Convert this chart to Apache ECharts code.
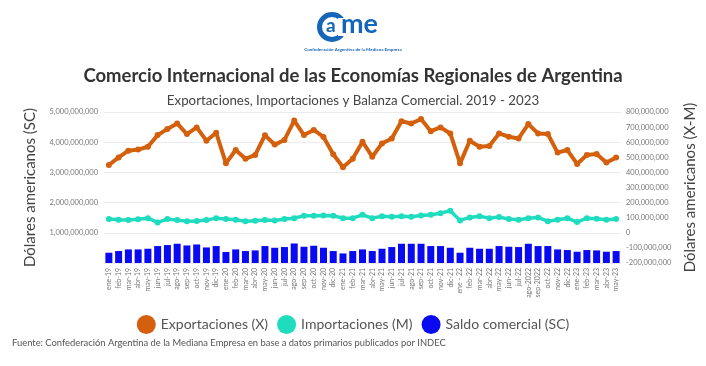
<!DOCTYPE html>
<html><head><meta charset="utf-8">
<script src="https://cdn.jsdelivr.net/npm/echarts@6/dist/echarts.min.js"></script>
<style>html,body{margin:0;padding:0;background:#fff}#c{width:706px;height:366px}</style>
</head><body><div id="c"></div>
<script>
const categories = ['ene-19','feb-19','mar-19','abr-19','may-19','jun-19','jul-19','ago-19','sep-19','oct-19','nov-19','dic-19',
'ene-20','feb-20','mar-20','abr-20','may-20','jun-20','jul-20','ago-20','sep-20','oct-20','nov-20','dic-20',
'ene-21','feb-21','mar-21','abr-21','may-21','jun-21','jul-21','ago-21','sep-21','oct-21','nov-21','dic-21',
'ene - 22','feb-22','mar-22','abr-22','may-22','jun-22','jul-22','ago-2022','sep-2022','oct-22','nov-22','dic-22',
'ene-23','feb-23','mar-23','abr-23','may-23'];
// values in millions of US dollars
const exportaciones = [449,499,544,551,570,647,687,724,654,698,610,663,
460,548,490,516,646,584,615,743,647,681,635,520,
434,490,603,504,592,625,739,724,753,673,698,658,
460,610,570,575,658,636,625,720,658,654,531,548,
456,515,522,465,498];
const importaciones = [91,86,84,89,97,69,91,84,76,78,84,97,
91,86,76,80,84,82,91,97,113,113,115,113,
97,97,119,97,109,106,109,106,115,119,130,146,
82,102,109,97,104,91,86,97,102,76,86,97,
71,97,93,86,91];
const saldo = [340,396,450,450,472,561,594,637,581,614,515,561,
363,450,396,417,561,505,528,647,538,571,505,396,
317,396,450,396,472,528,637,637,637,561,561,505,
340,505,472,472,561,538,528,637,561,561,450,429,
373,429,417,373,396];

const fmt = v => v === 0 ? '0' : v.toLocaleString('en-US') + ',000,000';
const FONT = 'Lato';
const chart = echarts.init(document.getElementById('c'));
chart.setOption({
  animation: false,
  textStyle: {fontFamily: FONT},
  title: [
    {text: 'Comercio Internacional de las Economías Regionales de Argentina', left: 'center', top: 62,
     textStyle: {fontSize: 18.5, fontWeight: 'bold', color: '#333', fontFamily: FONT}},
    {text: 'Exportaciones, Importaciones y Balanza Comercial. 2019 - 2023', left: 'center', top: 89,
     textStyle: {fontSize: 13.3, fontWeight: 'normal', color: '#444', fontFamily: FONT}}
  ],
  legend: {
    top: 310, left: 'center', icon: 'circle', itemWidth: 19, itemHeight: 19, itemGap: 9,
    textStyle: {fontSize: 14, color: '#555', fontFamily: FONT},
    data: ['Exportaciones (X)', 'Importaciones (M)', 'Saldo comercial (SC)']
  },
  grid: {left: 104, right: 85, top: 112, bottom: 103},
  xAxis: {
    type: 'category', data: categories,
    axisLine: {show: false}, axisTick: {show: false},
    axisLabel: {interval: 0, rotate: 90, fontSize: 7, color: '#777', margin: 5}
  },
  yAxis: [
    {type: 'value', min: 0, max: 5000, interval: 1000, position: 'left',
     axisLabel: {formatter: fmt, fontSize: 7.5, color: '#777', showMinLabel: false, margin: 6},
     splitLine: {lineStyle: {color: '#ebebeb'}},
     name: 'Dólares americanos (SC)', nameLocation: 'middle', nameGap: 66, nameRotate: 90,
     nameTextStyle: {fontSize: 15, color: '#444', fontFamily: FONT}},
    {type: 'value', min: -200, max: 800, interval: 100, position: 'right',
     axisLabel: {formatter: fmt, fontSize: 7.5, color: '#777', margin: 5},
     splitLine: {show: false},
     name: 'Dólares americanos (X-M)', nameLocation: 'middle', nameGap: 54, nameRotate: 90,
     nameTextStyle: {fontSize: 15, color: '#444', fontFamily: FONT}}
  ],
  series: [
    {name: 'Exportaciones (X)', type: 'line', yAxisIndex: 1, data: exportaciones,
     itemStyle: {color: '#d4600e'}, lineStyle: {width: 4, color: '#d4600e'},
     symbol: 'circle', symbolSize: 6, z: 3},
    {name: 'Importaciones (M)', type: 'line', yAxisIndex: 1, data: importaciones,
     itemStyle: {color: '#1fdcbf'}, lineStyle: {width: 3.5, color: '#1fdcbf'},
     symbol: 'circle', symbolSize: 6, z: 3},
    {name: 'Saldo comercial (SC)', type: 'bar', yAxisIndex: 0, data: saldo,
     itemStyle: {color: '#0a0af2'}, barWidth: 7}
  ],
  graphic: [
    {type: 'ring', shape: {cx: 332, cy: 27, r: 15, r0: 10}, style: {fill: '#1565b8'}},
    {type: 'rect', shape: {x: 338, y: 18, width: 12, height: 18}, style: {fill: '#fff'}},
    {type: 'text', x: 326, y: 16, style: {text: 'a', font: 'bold 19px ' + FONT, fill: '#1565b8'}},
    {type: 'text', x: 341, y: 11, style: {text: 'me', font: 'bold 27px ' + FONT, fill: '#1565b8'}},
    {type: 'text', x: 353, y: 47, style: {text: 'Confederación Argentina de la Mediana Empresa', font: 'bold 4.5px ' + FONT, fill: '#1565b8', align: 'center'}},
    {type: 'text', left: 12, top: 338, style: {text: 'Fuente: Confederación Argentina de la Mediana Empresa en base a datos primarios publicados por INDEC', font: '9.4px ' + FONT, fill: '#555'}}
  ]
});
</script></body></html>
